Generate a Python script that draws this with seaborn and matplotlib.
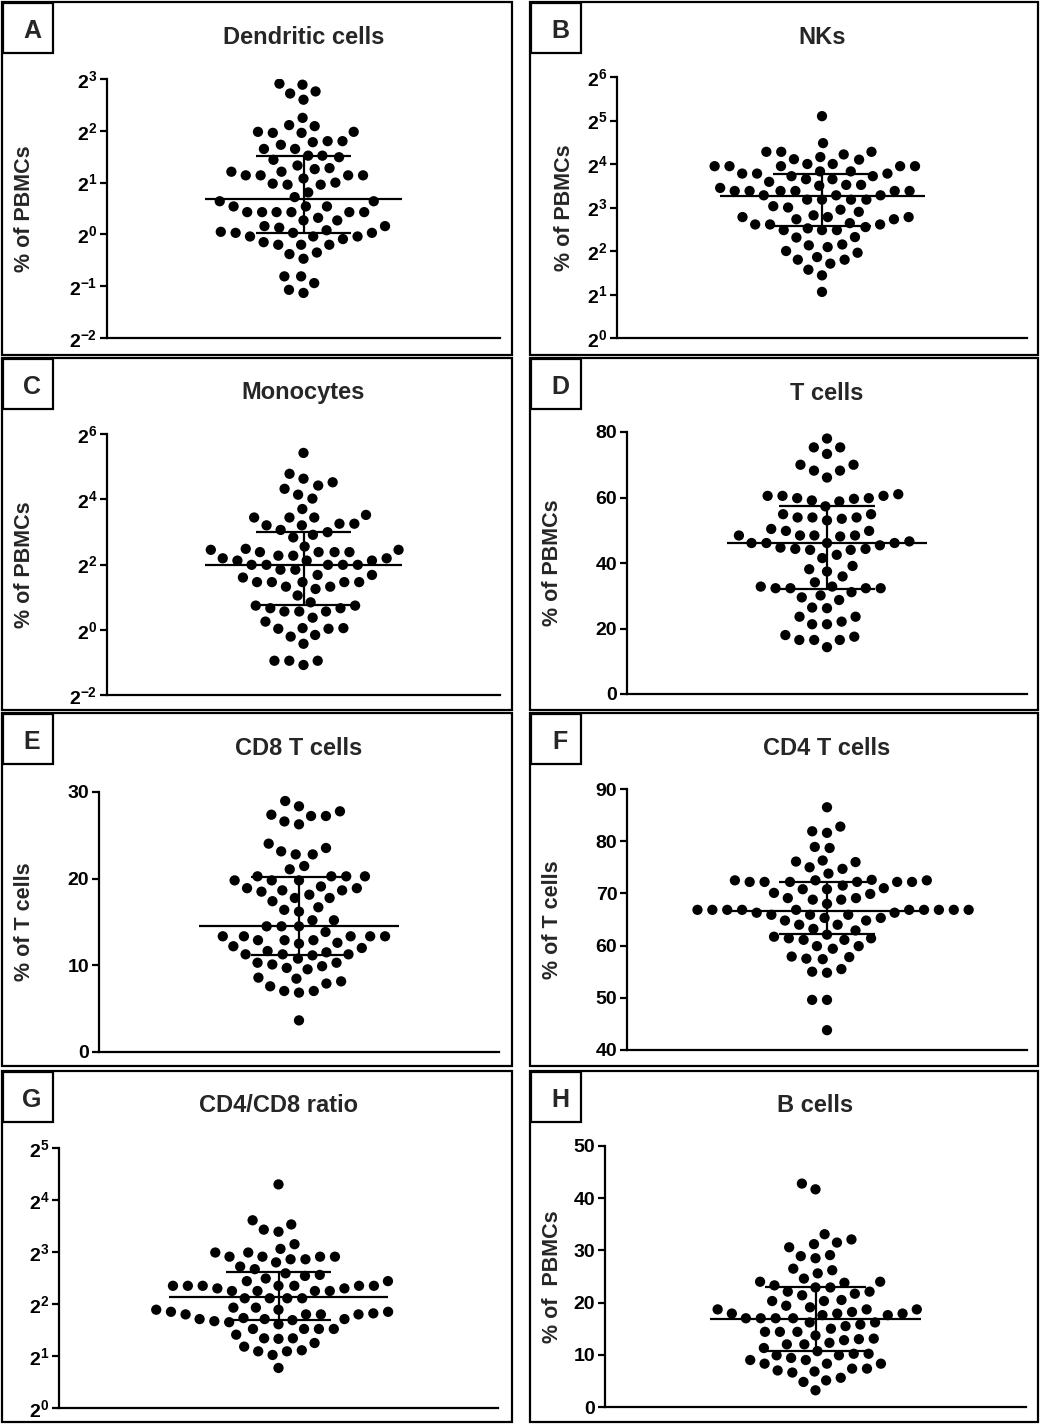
import numpy as np
import matplotlib
matplotlib.use("Agg")
import matplotlib.pyplot as plt
from matplotlib.patches import Rectangle
from matplotlib.ticker import FixedLocator, FuncFormatter, NullLocator
import seaborn as sns

sns.set_theme(style="ticks")
plt.rcParams['font.family'] = ['Liberation Sans', 'DejaVu Sans']
plt.rcParams['font.weight'] = 'bold'
plt.rcParams['mathtext.fontset'] = 'custom'
plt.rcParams['mathtext.rm'] = 'Liberation Sans:bold'
plt.rcParams['mathtext.bf'] = 'Liberation Sans:bold'
plt.rcParams['mathtext.it'] = 'Liberation Sans:bold'

# ---------------- data ----------------
# log-scaled panels: values stored as log2 exponents
dendritic_log2 = [2.91, 2.89, 2.76, 2.72, 2.60, 2.25, 2.11, 2.09, 1.98, 1.96, 1.96, 1.98,
                  1.80, 1.80, 1.78, 1.73, 1.65, 1.65, 1.52, 1.52, 1.49, 1.44, 1.33, 1.28,
                  1.26, 1.21, 1.21, 1.14, 1.14, 1.14, 1.14, 1.08, 0.98, 0.96, 0.96, 1.00,
                  0.81, 0.72, 0.64, 0.64, 0.54, 0.54, 0.54, 0.43, 0.43, 0.43, 0.43, 0.43,
                  0.43, 0.32, 0.27, 0.16, 0.16, 0.13, 0.27, 0.08, 0.03, 0.03, 0.03, 0.05,
                  -0.04, -0.04, -0.04, -0.09, -0.15, -0.20, -0.20, -0.20, -0.35, -0.38,
                  -0.47, -0.81, -0.81, -0.94, -1.07, -1.13]
nk_log2 = [5.10, 4.48, 4.28, 4.28, 4.28, 4.22, 4.16, 4.10, 4.11, 4.00, 4.00,
           3.95, 3.95, 3.95, 3.95, 3.95, 3.83, 3.83, 3.78, 3.78, 3.78, 3.72, 3.72,
           3.65, 3.65, 3.59, 3.52, 3.52, 3.50, 3.45, 3.38, 3.38, 3.38, 3.38, 3.38, 3.38,
           3.28, 3.28, 3.28, 3.18, 3.18, 3.18, 3.18, 3.03, 3.00, 2.95, 2.90, 2.82,
           2.78, 2.78, 2.78, 2.73, 2.73, 2.64, 2.61, 2.61, 2.61, 2.55, 2.52,
           2.48, 2.48, 2.48, 2.32, 2.31, 2.15, 2.13, 2.09, 2.00, 1.96, 1.86,
           1.80, 1.80, 1.71, 1.57, 1.44, 1.06]
monocyte_log2 = [5.42, 4.78, 4.63, 4.52, 4.42, 4.32, 4.14, 4.02, 3.70, 3.52,
                 3.44, 3.44, 3.44, 3.25, 3.25, 3.20, 3.20, 3.06, 2.99, 2.91, 2.83,
                 2.55, 2.48, 2.45, 2.45, 2.38, 2.38, 2.38, 2.38, 2.27, 2.27, 2.19, 2.19,
                 2.12, 2.12, 2.12, 1.99, 1.99, 1.99, 1.99, 1.99, 1.84, 1.84, 1.68, 1.68,
                 1.60, 1.46, 1.46, 1.46, 1.46, 1.46, 1.32, 1.32, 1.25, 1.05, 0.84,
                 0.74, 0.74, 0.66, 0.66, 0.56, 0.56, 0.56, 0.37, 0.25, 0.05, 0.05,
                 0.03, 0.03, -0.16, -0.21, -0.43, -0.95, -0.95, -0.95, -1.08]
ratio_log2 = [4.30, 3.61, 3.53, 3.43, 3.39, 3.15, 3.06, 2.99, 2.99, 2.91, 2.91, 2.91, 2.91,
              2.86, 2.86, 2.80, 2.72, 2.67, 2.59, 2.56, 2.54, 2.49, 2.44, 2.44,
              2.35, 2.35, 2.35, 2.35, 2.35, 2.35, 2.35, 2.30, 2.30, 2.25, 2.25, 2.25, 2.25,
              2.11, 2.11, 2.11, 2.11, 1.93, 1.93, 1.89, 1.89, 1.85, 1.85, 1.82,
              1.80, 1.80, 1.80, 1.80, 1.73, 1.71, 1.71, 1.71, 1.69, 1.67, 1.65, 1.61,
              1.52, 1.52, 1.52, 1.52, 1.41, 1.34, 1.34, 1.33, 1.25, 1.18, 1.11,
              1.09, 1.09, 1.02, 0.77]
# linear panels
t_cells = [78.0, 75.3, 75.3, 73.3, 70.0, 70.0, 68.2, 68.2, 66.1, 61.0, 60.5, 60.5, 60.5,
           59.8, 59.8, 59.6, 59.1, 58.8, 57.3, 54.9, 54.9, 53.9, 53.9, 53.9, 53.5, 53.0,
           50.4, 49.8, 49.8, 48.4, 48.4, 48.4, 48.4, 48.1, 46.6, 46.1, 46.1, 46.1, 46.1,
           45.4, 44.7, 44.3, 44.3, 44.0, 44.0, 42.5, 41.5, 39.1, 38.1, 37.4, 35.9, 34.1,
           32.8, 32.8, 32.3, 32.3, 32.3, 32.3, 31.1, 30.1, 29.5, 28.7, 26.4, 26.2,
           23.6, 23.6, 22.1, 21.3, 21.3, 18.0, 17.5, 16.5, 16.5, 16.5, 14.3]
cd8_t_cells = [28.96, 28.35, 27.77, 27.38, 27.23, 27.23, 26.6, 26.27, 24.04, 23.54, 23.15,
               22.8, 22.8, 21.46, 21.08, 20.27, 20.27, 20.27, 20.27, 19.8, 19.8, 19.8,
               19.1, 18.9, 18.9, 18.65, 18.65, 18.5, 18.15, 17.77, 17.77, 17.4, 16.7,
               16.4, 16.2, 15.2, 15.2, 14.5, 14.5, 14.5, 13.85, 13.35, 13.35, 13.35,
               13.35, 13.35, 12.9, 12.9, 12.9, 12.6, 12.5, 12.2, 12.0, 11.65, 11.5,
               11.27, 11.27, 11.27, 11.15, 10.77, 10.3, 10.3, 10.1, 9.9, 9.7, 9.54,
               8.58, 8.46, 8.15, 7.9, 7.58, 7.04, 7.04, 6.85, 3.65]
cd4_t_cells = [86.5, 82.8, 81.9, 81.6, 78.9, 78.7, 76.3, 76.1, 76.0, 75.0, 74.7, 73.8,
               72.6, 72.5, 72.5, 72.5, 72.2, 72.2, 72.2, 72.2, 72.2, 72.2, 71.5, 71.0,
               70.8, 70.8, 70.1, 69.9, 69.1, 69.1, 68.8, 68.8, 68.0,
               66.85, 66.85, 66.85, 66.85, 66.85, 66.85, 66.85, 66.85, 66.85, 66.85,
               66.3, 66.3, 65.9, 65.9, 65.9, 65.3, 65.3, 64.8, 64.8, 64.0, 64.0, 63.2,
               62.9, 62.1, 61.7, 61.4, 61.4, 61.1, 61.1, 59.9, 59.9, 59.4, 57.9, 57.8,
               57.5, 57.4, 55.5, 55.0, 54.8, 49.6, 49.6, 43.8]
b_cells = [42.8, 41.7, 33.1, 32.1, 31.5, 31.2, 30.6, 28.9, 29.1, 28.5, 26.5, 26.2, 25.6,
           24.6, 24.0, 24.0, 23.8, 23.3, 22.9, 22.9, 22.1, 22.1, 21.7, 21.4, 20.5, 20.3,
           20.3, 19.4, 19.1, 18.7, 18.7, 18.7, 18.2, 17.9, 17.9, 17.9, 17.6, 17.6,
           17.0, 17.0, 17.0, 17.0, 16.2, 16.2, 15.8, 15.5, 15.0, 14.4, 14.4, 14.4, 13.7,
           13.1, 13.0, 12.8, 12.3, 12.0, 12.0, 11.3, 10.7, 10.2, 10.2, 9.9, 9.9, 9.4,
           9.0, 9.0, 8.3, 8.3, 8.3, 7.35, 7.35, 7.0, 6.8, 6.6, 5.6, 5.1, 4.8, 3.2]

# summary lines drawn in the figure: [q1, median, q3]
dendritic_summary_log2 = [0.03, 0.68, 1.52]
nk_summary_log2 = [2.57, 3.26, 3.76]
monocyte_summary_log2 = [0.76, 1.97, 3.01]
ratio_summary_log2 = [1.69, 2.13, 2.61]
t_summary = [32.0, 46.1, 57.3]
cd8_summary = [11.23, 14.54, 20.2]
cd4_summary = [62.25, 66.7, 72.2]
b_summary = [10.7, 16.8, 23.0]

letters = ["A", "B", "C", "D", "E", "F", "G", "H"]
titles = ["Dendritic cells", "NKs", "Monocytes", "T cells",
          "CD8 T cells", "CD4 T cells", "CD4/CD8 ratio", "B cells"]
ylabels = ["% of PBMCs", "% of PBMCs", "% of PBMCs", "% of PBMCs",
           "% of T cells", "% of T cells", "", "% of  PBMCs"]
log_exponent_ticks = {"A": [-2, -1, 0, 1, 2, 3], "B": [0, 1, 2, 3, 4, 5, 6],
                      "C": [-2, 0, 2, 4, 6], "G": [0, 1, 2, 3, 4, 5]}
linear_ticks = {"D": [0, 20, 40, 60, 80], "E": [0, 10, 20, 30],
                "F": [40, 50, 60, 70, 80, 90], "H": [0, 10, 20, 30, 40, 50]}

# ---------------- layout (pixels) ----------------
W, H = 1041, 1425
fig = plt.figure(figsize=(W / 100, H / 100), dpi=100)
fig.patch.set_facecolor("white")

col_x = [(2, 512), (530, 1038)]
row_y = [(2, 355), (358, 710), (713, 1066), (1071, 1422)]
axes_px = {  # left, top, right, bottom
    "A": (107, 79, 500, 338), "B": (617, 77, 1027, 338),
    "C": (107, 434, 500, 695), "D": (627, 432, 1027, 694),
    "E": (99, 792, 499, 1052), "F": (627, 789, 1027, 1050),
    "G": (59, 1148, 498, 1408), "H": (605, 1146, 1026, 1407),
}
ylabel_x = {"A": 25, "B": 565, "C": 25, "D": 552, "E": 25, "F": 552, "G": 25, "H": 552}


def fx(px):
    return px / W


def fy(py):
    return 1 - py / H


panel_values = {
    "A": 2 ** np.array(dendritic_log2), "B": 2 ** np.array(nk_log2),
    "C": 2 ** np.array(monocyte_log2), "D": np.array(t_cells),
    "E": np.array(cd8_t_cells), "F": np.array(cd4_t_cells),
    "G": 2 ** np.array(ratio_log2), "H": np.array(b_cells),
}
panel_summary = {
    "A": 2 ** np.array(dendritic_summary_log2), "B": 2 ** np.array(nk_summary_log2),
    "C": 2 ** np.array(monocyte_summary_log2), "D": np.array(t_summary),
    "E": np.array(cd8_summary), "F": np.array(cd4_summary),
    "G": 2 ** np.array(ratio_summary_log2), "H": np.array(b_summary),
}

LW = 1.6
for i, key in enumerate(letters):
    r, c = divmod(i, 2)
    x0, x1 = col_x[c]
    y0, y1 = row_y[r]
    # panel frame
    fig.add_artist(Rectangle((fx(x0), fy(y1)), (x1 - x0) / W, (y1 - y0) / H,
                             transform=fig.transFigure, fill=False,
                             edgecolor="black", linewidth=LW, zorder=0))
    # letter box
    fig.add_artist(Rectangle((fx(x0 + 1), fy(y0 + 51)), 50 / W, 50 / H,
                             transform=fig.transFigure, fill=False,
                             edgecolor="black", linewidth=LW))
    fig.text(fx(x0 + 30), fy(y0 + 29), key, ha="center", va="center",
             fontsize=18, fontweight="bold")

    l, t, rr, b = axes_px[key]
    ax = fig.add_axes([fx(l), fy(b), (rr - l) / W, (b - t) / H])
    vals = panel_values[key]
    is_log = key in log_exponent_ticks
    sns.swarmplot(y=vals, ax=ax, color="black", size=7.4, linewidth=2.8,
                  log_scale=2 if is_log else None)
    for coll in ax.collections:
        coll.set_edgecolor("none")

    q1, med, q3 = panel_summary[key]
    ax.hlines(med, -0.25, 0.25, color="black", linewidth=LW, zorder=4)
    ax.hlines([q1, q3], -0.12, 0.12, color="black", linewidth=LW, zorder=4)
    ax.vlines(0, q1, q3, color="black", linewidth=LW, zorder=4)

    ax.set_xlim(-0.5, 0.5)
    ax.set_xticks([])
    ax.set_xlabel("")
    ax.set_ylabel("")
    if is_log:
        exps = log_exponent_ticks[key]
        ax.set_yscale("log", base=2)
        ax.set_ylim(2.0 ** exps[0], 2.0 ** exps[-1])
        ax.yaxis.set_major_locator(FixedLocator([2.0 ** e for e in exps]))
        ax.yaxis.set_minor_locator(NullLocator())
        ax.yaxis.set_major_formatter(FuncFormatter(
            lambda v, p: r"$\mathbf{2^{%d}}$" % int(round(np.log2(v)))))
    else:
        ticks = linear_ticks[key]
        ax.set_ylim(ticks[0], ticks[-1])
        ax.set_yticks(ticks)
        ax.set_yticklabels([str(tk) for tk in ticks])
    ax.tick_params(axis="y", length=5, width=LW, pad=2, labelsize=14,
                   direction="out", color="black", labelcolor="black")
    for lab in ax.get_yticklabels():
        lab.set_fontweight("bold")
    for s in ["top", "right"]:
        ax.spines[s].set_visible(False)
    for s in ["left", "bottom"]:
        ax.spines[s].set_linewidth(LW)
        ax.spines[s].set_color("black")
    ax.set_facecolor("none")
    ax.grid(False)

    # title
    fig.text(fx((l + rr) / 2), fy(y0 + 35), titles[i], ha="center", va="center",
             fontsize=17, fontweight="bold")
    if ylabels[i]:
        fig.text(fx(ylabel_x[key]), fy((t + b) / 2), ylabels[i], rotation=90,
                 ha="center", va="center", fontsize=15.5, fontweight="bold")

fig.savefig("out.png", dpi=100, facecolor="white")
